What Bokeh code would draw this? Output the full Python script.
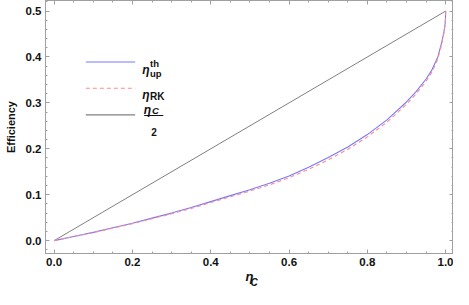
from bokeh.plotting import figure
from bokeh.models import Range1d, LinearAxis, SingleIntervalTicker, NumeralTickFormatter, CustomJSTickFormatter, Title
from bokeh.embed import file_html
from bokeh.resources import INLINE
from bokeh.core.properties import value

# data
eta_c = [0, 0.05, 0.1, 0.15, 0.2, 0.25, 0.3, 0.35, 0.4, 0.45, 0.5, 0.55, 0.6, 0.65,
         0.7, 0.75, 0.8, 0.85, 0.9, 0.925, 0.95, 0.965, 0.98, 0.99, 0.995, 0.998, 0.9995, 1.0]
eta_up = [0, 0.009, 0.018, 0.028, 0.038, 0.049, 0.060, 0.072, 0.085, 0.098, 0.111, 0.125,
          0.141, 0.160, 0.181, 0.204, 0.231, 0.263, 0.302, 0.325, 0.352, 0.372, 0.400,
          0.432, 0.452, 0.468, 0.482, 0.5]
eta_rk = [0, 0.009, 0.0175, 0.0272, 0.037, 0.0478, 0.0585, 0.0703, 0.083, 0.0955, 0.108,
          0.1215, 0.137, 0.1555, 0.176, 0.199, 0.226, 0.258, 0.297, 0.320, 0.347, 0.367,
          0.396, 0.429, 0.450, 0.467, 0.4815, 0.5]
half_x = [0, 1]
half_y = [0, 0.5]

x_ticks_interval = 0.2
y_ticks_interval = 0.1

FRAME = "#a0a0a0"
FONT = "Liberation Sans"
TXT = "#111111"

p = figure(width=453, height=289, output_backend="svg", toolbar_location=None,
           x_range=Range1d(-0.022, 1.02), y_range=Range1d(-0.028, 0.523),
           min_border_left=45, min_border_right=0, min_border_top=0, min_border_bottom=36)
p.xgrid.visible = False
p.ygrid.visible = False
p.outline_line_color = FRAME
p.background_fill_color = "white"
p.border_fill_color = "white"

def style(ax, ticker, labels=True):
    ax.ticker = ticker
    ax.axis_line_color = FRAME
    ax.major_tick_line_color = FRAME
    ax.minor_tick_line_color = FRAME
    ax.major_tick_in = 4
    ax.major_tick_out = 0
    ax.minor_tick_in = 2
    ax.minor_tick_out = 0
    ax.major_label_text_font = FONT
    ax.major_label_text_font_style = "bold"
    ax.major_label_text_font_size = "11.5px"
    ax.major_label_text_color = TXT
    if labels:
        ax.formatter = NumeralTickFormatter(format="0.0")
    else:
        ax.formatter = CustomJSTickFormatter(code="return ''")
        ax.major_label_text_font_size = "0px"
        ax.major_label_standoff = 0
        ax.axis_label_standoff = 0

xt = lambda: SingleIntervalTicker(interval=x_ticks_interval, num_minor_ticks=4)
yt = lambda: SingleIntervalTicker(interval=y_ticks_interval, num_minor_ticks=5)

style(p.xaxis[0], xt())
style(p.yaxis[0], yt())
p.xaxis[0].major_label_standoff = 4
p.xaxis[0].axis_label = "η"
p.xaxis[0].axis_label_text_font = FONT
p.xaxis[0].axis_label_text_font_style = "bold italic"
p.xaxis[0].axis_label_text_font_size = "13px"
p.xaxis[0].axis_label_text_color = TXT
p.xaxis[0].axis_label_standoff = 0
p.yaxis[0].major_label_standoff = 4
p.yaxis[0].axis_label = "Efficiency"
p.yaxis[0].axis_label_text_font = FONT
p.yaxis[0].axis_label_text_font_style = "bold"
p.yaxis[0].axis_label_text_font_size = "11px"
p.yaxis[0].axis_label_text_color = TXT
p.yaxis[0].axis_label_standoff = 6

top = LinearAxis()
style(top, xt(), labels=False)
p.add_layout(top, "above")
right = LinearAxis()
style(right, yt(), labels=False)
p.add_layout(right, "right")

# subscript C of the x-axis title
sub = Title(text="C", align="left", offset=205, vertical_align="top", standoff=-20,
            text_font=FONT, text_font_style="bold italic", text_font_size="10px", text_color=TXT)
p.add_layout(sub, "below")

# curves
p.line(half_x, half_y, line_color="#808080", line_width=1)
p.line(eta_c, eta_up, line_color="#7878ff", line_width=1.1)
p.line(eta_c, eta_rk, line_color="#ff8c8c", line_width=1.1, line_dash="4 3")

# manual legend
leg_x = [0.081, 0.207]
p.line(leg_x, [0.389, 0.389], line_color="#7878ff", line_width=1.1)
p.line(leg_x, [0.332, 0.332], line_color="#ff8c8c", line_width=1.1, line_dash="4 3")
p.line(leg_x, [0.274, 0.274], line_color="#808080", line_width=1.1)

def txt(x, y, s, size, style="bold", align="left"):
    p.text(x=[x], y=[y], text=[s], text_font=value(FONT), text_font_style=style,
           text_font_size=size, text_baseline="alphabetic", text_align=align, text_color=TXT)

txt(0.225, 0.372, "η", "12px", "bold italic")
txt(0.245, 0.386, "th", "9.5px")
txt(0.245, 0.365, "up", "9.5px")

txt(0.225, 0.318, "η", "12px", "bold italic")
txt(0.245, 0.314, "RK", "10px")

txt(0.229, 0.2855, "η", "12px", "bold italic")
txt(0.250, 0.283, "C", "9.5px", "bold italic")
p.line([0.230, 0.279], [0.2725, 0.2725], line_color=TXT, line_width=1)
txt(0.255, 0.237, "2", "10px", "bold", "center")

open("out.html", "w").write(file_html(p, INLINE))
